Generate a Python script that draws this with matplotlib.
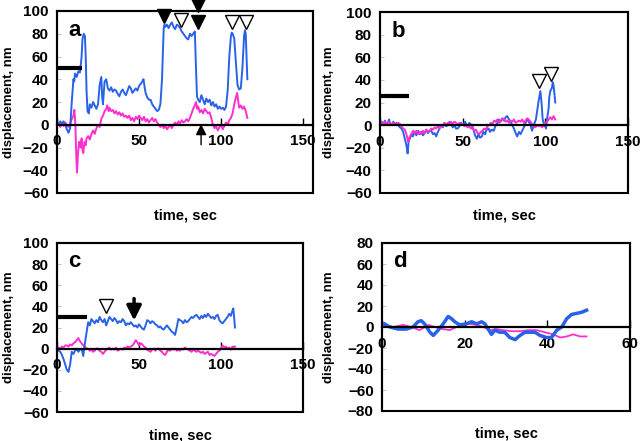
import matplotlib
matplotlib.use("Agg")
import matplotlib.pyplot as plt
from matplotlib.patches import Rectangle

plt.rcParams['font.family'] = ['Liberation Sans', 'DejaVu Sans']
plt.rcParams['font.weight'] = 'bold'

BLUE = '#2962e8'
PINK = '#ff2ed0'

# ---- panel a ----
a_t = [0, 1, 2, 3, 4, 5, 6, 7, 8, 9, 10, 10.5, 11, 12, 13, 14, 15, 15.5, 16.3, 17, 17.5, 18, 18.6, 19.4,
       20, 21, 22, 23, 24, 25, 26, 27, 27.5, 28, 29, 30, 31, 32, 33, 34, 35, 36, 37, 38, 39, 40, 41, 42,
       43, 44, 45, 46, 47, 48, 49, 50, 51, 52, 52.7, 53.5, 54, 55, 56, 57, 58, 59, 60, 61, 62, 63, 64,
       65, 65.5, 66, 67, 68, 69, 70, 71, 72, 73, 74, 75, 76, 77, 78, 79, 80, 81, 82, 83, 84, 84.7, 85.3,
       86, 87, 88, 89, 90, 91, 92, 93, 94, 95, 96, 97, 98, 99, 100, 101, 102, 103, 104, 105, 106, 106.5,
       107, 108, 109, 110, 111, 112, 113, 114, 114.5, 115, 116]
a_blue = [2, 0, 3, 1, 3, 0, -4, -7, -3, 20, 40, 38, 45, 42, 47, 46, 60, 75, 80, 78, 60, 30, 12, 10,
          18, 15, 20, 17, 14, 18, 35, 42, 25, 18, 38, 40, 32, 30, 33, 29, 31, 30, 27, 25, 29, 31, 28, 26,
          30, 34, 32, 28, 30, 32, 30, 34, 36, 38, 40, 32, 28, 24, 22, 22, 18, 16, 14, 12, 13, 18, 40,
          84, 88, 86, 88, 85, 88, 90, 86, 84, 88, 87, 85, 82, 80, 78, 76, 75, 80, 78, 80, 82, 50, 25,
          22, 20, 26, 22, 18, 23, 20, 22, 17, 20, 16, 18, 14, 16, 14, 15, 13, 16, 30, 60, 78, 81,
          80, 76, 55, 35, 31, 32, 50, 78, 83, 80, 40]

a_tp = [0, 1, 2, 3, 4, 5, 6, 7, 8, 9, 10, 10.6, 11.2, 11.8, 12.2, 12.8, 13.5, 14.3, 15, 15.5, 16, 16.8,
        17.5, 18, 19, 20, 21, 22, 23, 24, 25, 26, 27, 28, 29, 30, 30.6, 31.5, 32, 33, 34, 35, 36, 37, 38,
        39, 40, 41, 42, 43, 44, 45, 46, 47, 48, 49, 50, 51, 52, 53, 54, 55, 56, 57, 58, 59, 60, 61, 62,
        63, 64, 65, 66, 67, 68, 69, 70, 71, 72, 73, 74, 75, 76, 77, 78, 79, 80, 81, 82, 83, 84, 84.7,
        85.5, 86, 87, 88, 89, 90, 91, 92, 93, 94, 95, 96, 97, 98, 99, 100, 101, 102, 103, 104, 105, 106,
        107, 108, 109, 109.8, 110.5, 111, 112, 113, 114, 115, 116]
a_pink = [0, 2, -2, 1, -1, 2, 0, -2, 1, 5, 8, 13, 0, -30, -42, -25, -15, -20, -12, -22, -25, -15,
          -18, -12, -10, -13, -8, -5, -8, -3, 0, -2, 5, 8, 12, 14, 17, 12, 15, 12, 13, 10, 12, 9, 11,
          8, 10, 7, 8, 6, 8, 4, 6, 3, 7, 5, 8, 6, 4, 7, 3, 5, 2, 4, 6, 3, 5, 2, 0,
          -2, 0, -3, -1, -4, -2, 0, -3, 0, 2, 0, 3, 1, 4, 2, 3, 5, 3, 6, 10, 14, 17, 20,
          14, 16, 11, 13, 10, 14, 12, 10, 11, 6, 0, -3, -1, -5, -2, 0, -4, -1, 2, 0, 4, 6,
          10, 18, 24, 28, 20, 15, 17, 14, 16, 12, 6]

# ---- panel b ----
b_t = [0, 1, 2, 3, 4, 5, 5.5, 6, 7, 8, 9, 10, 11, 12, 13, 14, 15, 16, 16.7, 17.3, 18, 19, 19.8, 21, 22,
       23, 24, 25, 26, 27, 28, 29, 30, 31, 32, 33, 34, 35, 36, 37, 38, 39, 40, 41, 42, 43, 44, 45, 46,
       47, 48, 49, 50, 51.5, 52, 53, 54, 55.5, 56.5, 57.5, 58.6, 59.5, 60.5, 61.6, 62.5, 63.5, 64.5,
       65.7, 66.5, 67.5, 68.8, 70, 71, 71.8, 73, 74, 75, 76, 77, 78, 79, 80, 81, 82, 83, 84, 85, 86,
       87, 88, 89, 90, 91, 92, 93, 94.3, 95, 96, 97, 97.7, 98.4, 99, 100.4, 101, 102, 102.4, 103, 104,
       104.5, 105, 106]
b_blue = [0, 3, 1, 4, 0, 3, 5, 2, 0, 3, 1, 2, 0, -2, -3, -6, -12, -18, -25, -15, -12, -8, -10, -6, -9,
          -5, -8, -6, -9, -7, -4, -7, -5, -5, -8, -7, -10, -6, -3, 0, -2, 2, -1, 0, 3, 1, -2, 0, -3,
          -3, -1, 2, 0, 3, 1, -1, 2, 0, -4, -9, -12, -8, -11, -10, -6, -8, -4,
          -3, -6, -4, -5, 0, 2, 5, 3, 6, 4, 7, 8, 5, 3, 0, -3, -7, -10, -6, -8, -5,
          -2, 2, 5, 3, 0, -5, 0, 5, 12, 22, 30, 20, 5, 2, -3, 5, 15, 25, 30, 33,
          38, 35, 20]

b_tp = list(range(0, 107))
b_pink = [0, 2, 1, 3, 1, 3, 2, 0, 2, 1, 0, 2, 1, -1, -3, -4, -8, -15, -10, -8, -5, -7, -5, -8, -6,
          -8, -5, -7, -4, -6, -5, -3, -4, -2, -3, -1, -3, 0, -1, 2, 0, 2, 1, 3, 1, 3, 2, 0, 2, 0,
          1, -1, 0, -2, -1, -3, -2, -5, -4, -7, -8, -6, -5, -3, -4, -1, 0, 2, 1, 4, 3, 5, 2, 4, 6,
          5, 3, 4, 2, 4, 3, 5, 2, 3, 4, 3, 5, 2, 4, 6, 5, 3, 1, -1, -2, 0, -1, 0, -2, 0, 2, 3,
          5, 7, 5, 8, 5]

# ---- panel c ----
c_t = list(range(0, 108)) + [107.5, 108, 108.5]
c_blue = [0, -2, -3, -6, -10, -15, -20, -22, -15, -3, -5, -2, 0, -3, -1, 0, -7, 5, 15, 25, 22, 28,
          26, 24, 27, 25, 30, 27, 25, 28, 22, 26, 30, 28, 26, 29, 27, 24, 26, 25, 28, 26, 22, 24, 23,
          25, 23, 21, 22, 20, 23, 21, 19, 18, 22, 27, 26, 24, 26, 25, 23, 22, 20, 21, 19, 18, 20, 22,
          20, 18, 16, 15, 13, 20, 28, 27, 26, 24, 27, 25, 26, 28, 30, 29, 31, 32, 30, 28, 31, 29, 32,
          30, 33, 31, 29, 30, 28, 31, 32, 27, 25, 24, 26, 28, 30, 33, 31, 36, 38, 30, 20]
c_tp = list(range(0, 109)) + [108.5]
c_pink = [0, 1, 0, 2, 1, 3, 3, 2, 4, 3, 5, 6, 8, 10, 7, 5, 3, 2, 0, 0, -2, -1, -3, -2, 0, 0, -2,
          -3, -5, -3, -1, 0, 1, -1, 0, -1, 1, -2, -1, 0, -1, 1, 0, 2, 1, 2, 3, 5, 8, 6, 3, 5, 4, 2,
          1, -1, -2, -3, -1, 0, -2, 0, 0, -2, -3, -5, -6, -3, -1, -2, 0, -1, 0, -2, -1, -2, 0, -1, 1,
          0, -1, -2, -3, -1, -2, -3, -2, -3, -4, -3, -5, -4, -3, -6, -5, -6, -7, -5, -3, -2, 0, 3, 1,
          2, 0, 1, -1, 2, 1, 2]

# ---- panel d ----
d_t = [0.6, 1.9, 3.9, 5.9, 7.5, 8.7, 9.5, 10.3, 11.6, 12.4, 13.6, 14.8, 16, 16.8, 17.6, 18.8, 20.4,
       21.7, 22.9, 24.1, 24.9, 25.7, 26.5, 27.3, 28.5, 29.7, 30.9, 32.2, 33.4, 34.6, 35.8, 37, 38.2,
       39.8, 41, 42.3, 43.5, 44.7, 45.9, 47.1, 48.3, 49.5]
d_blue = [3, 0, -2, -2, 0, 5, 6, 3, -5, -8, -3, 3, 10, 8, 5, 2, 3, 5, 3, 5, 3, -2, -7, -3, -5, -5,
          -10, -12, -8, -5, -5, -5, -8, -10, -10, -3, 0, 8, 12, 13, 14, 16]
d_tp = [0.6, 2.7, 5.1, 7.1, 9.1, 11.2, 12.8, 14.8, 16.4, 18, 19.6, 21.2, 22.9, 24.5, 26.1, 27.7,
        29.3, 31.3, 33.4, 35.4, 37.4, 39.4, 41.4, 43.1, 44.7, 46.3, 47.9, 49.5]
d_pink = [2, 0, 2, 0, -3, 2, 0, -2, -3, 0, 3, 3, 2, 0, -3, -2, -3, -4, -4, -3, -3, -5, -7, -10,
          -9, -7, -9, -9]

# axes rectangles in pixels: left, top, right, bottom
W, H = 640, 441
boxes = {'a': (57, 11, 313, 193), 'b': (380, 12, 628, 193),
         'c': (57, 243, 303, 412), 'd': (382, 243, 630, 411)}

fig = plt.figure(figsize=(6.4, 4.41), dpi=100)


def make_axes(key, xmax, xticks, ylim, yticks):
    l, t, r, b = boxes[key]
    ax = fig.add_axes([l / W, 1 - b / H, (r - l) / W, (b - t) / H])
    ax.set_xlim(0, xmax)
    ax.set_ylim(*ylim)
    for s in ['top', 'right', 'left']:
        ax.spines[s].set_linewidth(1.5)
    ax.spines['bottom'].set_position(('data', 0))
    ax.spines['bottom'].set_linewidth(1.6)
    ax.add_patch(Rectangle((0, 0), 1, 1, transform=ax.transAxes, fill=False,
                           lw=1.5, ec='black', clip_on=False, zorder=5))
    ax.set_xticks(xticks)
    ax.set_yticks(yticks)
    ax.tick_params(axis='x', direction='in', length=5, width=1, pad=7, labelsize=11)
    ax.tick_params(axis='y', direction='in', length=3, width=0.6, color='#bbbbbb',
                   pad=6, labelsize=11)
    for lab in ax.get_xticklabels() + ax.get_yticklabels():
        lab.set_fontweight('bold')
    ax.set_ylabel('displacement, nm', fontsize=9.5, fontweight='bold', va='center')
    ax.yaxis.set_label_coords(-(l - 9 - (0 if l < 300 else 320)) / (r - l), 0.5)
    ax.annotate('time, sec', xy=(0.5, 0), xycoords='axes fraction', xytext=(0, -23),
                textcoords='offset pixels', ha='center', va='center',
                fontsize=10.5, fontweight='bold')
    ax.text(0.045, 0.95, key, transform=ax.transAxes, ha='left', va='top',
            fontsize=16, fontweight='bold')
    return ax


yt = [-60, -40, -20, 0, 20, 40, 60, 80, 100]

# a
ax = make_axes('a', 156, [0, 50, 100, 150], (-60, 100), yt)
ax.plot(a_tp, a_pink, color=PINK, lw=1.4)
ax.plot(a_t, a_blue, color=BLUE, lw=1.4)
ax.plot([0, 15], [50, 50], color='black', lw=3, solid_capstyle='butt')
ax.plot([65.5], [96], 'v', color='black', ms=10, clip_on=False)
ax.plot([86], [105], 'v', color='black', ms=10, clip_on=False)
ax.plot([86], [90], 'v', color='black', ms=10, clip_on=False)
ax.plot([75.5, 106.5, 115.3], [92, 90, 90], 'v', mfc='white', mec='black', mew=1, ms=10,
        clip_on=False)
ax.annotate('', xy=(87.8, 3), xytext=(87.8, -20),
            arrowprops=dict(arrowstyle='-|>', color='black', lw=1, mutation_scale=16))

# b
ax = make_axes('b', 150, [0, 50, 100, 150], (-60, 100), yt)
ax.plot(b_t, b_blue, color=BLUE, lw=1.4)
ax.plot(b_tp, b_pink, color=PINK, lw=1.4)
ax.plot([0, 17.8], [26, 26], color='black', lw=3, solid_capstyle='butt')
ax.plot([96, 103.6], [39, 45], 'v', mfc='white', mec='black', mew=1, ms=10, clip_on=False)

# c
ax = make_axes('c', 150, [0, 50, 100, 150], (-60, 100), yt)
ax.plot(c_tp, c_pink, color=PINK, lw=1.4)
ax.plot(c_t, c_blue, color=BLUE, lw=1.4)
ax.plot([0, 18.5], [30, 30], color='black', lw=3, solid_capstyle='butt')
ax.plot([30], [40], 'v', mfc='white', mec='black', mew=1, ms=10)
ax.annotate('', xy=(47, 24), xytext=(47, 50),
            arrowprops=dict(arrowstyle='-|>', color='black', lw=2.5, mutation_scale=22))

# d
ax = make_axes('d', 60, [0, 20, 40, 60], (-80, 80), [-80, -60, -40, -20, 0, 20, 40, 60, 80])
ax.plot(d_tp, d_pink, color=PINK, lw=1.3)
ax.plot(d_t, d_blue, color=BLUE, lw=2.5)

fig.savefig('out.png', dpi=100)
